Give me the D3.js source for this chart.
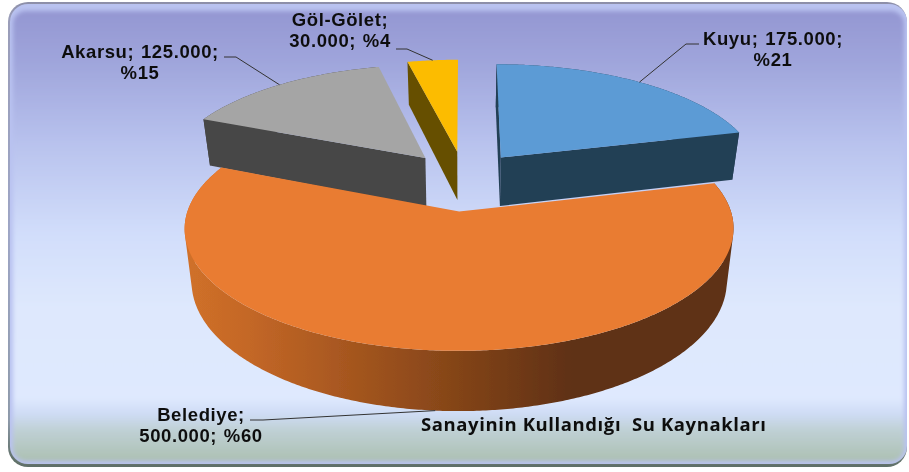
<!DOCTYPE html>
<html>
<head>
<meta charset="utf-8">
<script src="https://cdn.jsdelivr.net/npm/d3@7"></script>
<style>
  html, body { margin: 0; padding: 0; background: #fff; }
  svg { display: block; }
  .lbl { font-family: "Liberation Sans", Arial, sans-serif; font-weight: bold; font-size: 18.5px; letter-spacing: 0.6px; fill: #111; word-spacing: 1px; }
  .ttl { font-family: "Open Sans", sans-serif; font-weight: 700; font-size: 18.5px; letter-spacing: 0.6px; fill: #111; }
</style>
</head>
<body>
<div id="chart"></div>
<script>
// values
var categories = ['Kuyu', 'Belediye', 'Akarsu', 'Göl-Gölet'];
var amounts = [175000, 500000, 125000, 30000];
var amountLabels = ['175.000', '500.000', '125.000', '30.000'];
var percentLabels = ['%21', '%60', '%15', '%4'];
var chartTitle = 'Sanayinin Kullandığı  Su Kaynakları';

var topColors = ['#5B9BD5', '#E97B30', '#A5A5A5', '#FCBC00'];
var wallColors = ['#243F55', 'url(#orangeWall)', '#464646', '#665000'];

var width = 909, height = 472;

// perspective set-up of the 3d pie, fitted by eye
var view = { x0: 464, y0: 180.5, a: 262, b: 111.4, k: 0.134, depth: 50, inset: 0.025 };
var explodeX = 0.235, explodeY = 0.27;

function project(X, Y, d) {
    var w = 1 + view.k * Y;
    return [
        view.x0 + view.a * X / w * (1 - view.inset * d),
        view.y0 - view.b * Y / w + view.depth * d / w
    ];
}

var svg = d3.select('#chart').append('svg').attr('width', width).attr('height', height);
var defs = svg.append('defs');

defs.append('filter').attr('id', 'soft').attr('x', 0).attr('y', 0).attr('width', 1).attr('height', 1)
    .append('feGaussianBlur').attr('stdDeviation', 0.45);
defs.append('filter').attr('id', 'bevel').attr('x', -0.02).attr('y', -0.02).attr('width', 1.04).attr('height', 1.04)
    .append('feGaussianBlur').attr('stdDeviation', 2);

var bg = defs.append('linearGradient').attr('id', 'panelFill').attr('x1', 0).attr('x2', 0).attr('y1', 0).attr('y2', 1);
[[0, '#9497D2'], [0.12, '#A0A6DC'], [0.3, '#B9C3EE'], [0.5, '#D2DEFB'], [0.66, '#DEE8FD'], [0.86, '#DFE9FE'],
 [0.895, '#CFDCF5'], [0.93, '#C0D1D6'], [1, '#ACC0B2']].forEach(function (s) {
    bg.append('stop').attr('offset', s[0]).attr('stop-color', s[1]);
});

var edge = defs.append('linearGradient').attr('id', 'panelEdge').attr('x1', 0).attr('x2', 0).attr('y1', 0).attr('y2', 1);
[[0, '#8C8EA8'], [0.03, '#9A9DB8'], [0.5, '#9CA4C4'], [0.9, '#8C98A8'], [0.98, '#5F6F68'], [1, '#5F6F68']].forEach(function (s) {
    edge.append('stop').attr('offset', s[0]).attr('stop-color', s[1]);
});

var wallGrad = defs.append('linearGradient').attr('id', 'orangeWall')
    .attr('gradientUnits', 'userSpaceOnUse').attr('x1', 190).attr('x2', 726).attr('y1', 0).attr('y2', 0);
[[0, '#CF7029'], [0.1, '#C56827'], [0.3, '#A5561F'], [0.5, '#834418'], [0.72, '#5E3012'], [1, '#5E3012']].forEach(function (s) {
    wallGrad.append('stop').attr('offset', s[0]).attr('stop-color', s[1]);
});

var root = svg.append('g').attr('filter', 'url(#soft)');

// panel with bevel
root.append('rect').attr('x', 8).attr('y', 2).attr('width', 899).attr('height', 465).attr('rx', 20).attr('fill', 'url(#panelEdge)');
root.append('rect').attr('x', 10).attr('y', 4).attr('width', 897).attr('height', 460).attr('rx', 18).attr('fill', '#B9C2F0');
root.append('rect').attr('x', 13).attr('y', 11).attr('width', 891).attr('height', 450).attr('rx', 13)
    .attr('fill', 'url(#panelFill)').attr('filter', 'url(#bevel)');

// slices
var pie = d3.pie().sort(null).value(function (d) { return d; });
var arcs = pie(amounts);
var line = d3.line();

function slicePoints(s) {
    var mid = (s.startAngle + s.endAngle) / 2,
        ox = explodeX * Math.sin(mid),
        oy = explodeY * Math.cos(mid),
        n = Math.ceil((s.endAngle - s.startAngle) / 0.01);
    var rim = d3.range(n + 1).map(function (i) {
        var t = s.startAngle + (s.endAngle - s.startAngle) * i / n;
        return [ox + Math.sin(t), oy + Math.cos(t)];
    });
    return { mid: mid, ox: ox, oy: oy, rim: rim };
}

function pts(list, d) {
    return list.map(function (p) { return project(p[0], p[1], d); });
}

// one path of same-wound quads, nonzero fill then gives their union without seams
function rimWall(rim) {
    return d3.pairs(rim).map(function (p) {
        var quad = pts(p, 0).concat(pts(p, 1).reverse());
        if (d3.polygonArea(quad) < 0) {
            quad.reverse();
        }
        return line(quad) + 'Z';
    }).join('');
}

var slices = arcs.map(function (s, i) {
    var g = slicePoints(s);
    g.index = i;
    return g;
});

// which cut faces can be seen: start and end of the slice
var visibleCuts = [[true, true], [false, false], [true, false], [true, false]];

// paint back to front, the big slice comes last
[2, 3, 0, 1].forEach(function (i) {
    var s = slices[i],
        c = [s.ox, s.oy],
        ends = [s.rim[0], s.rim[s.rim.length - 1]],
        g = root.append('g').attr('class', 'slice');

    // the small slice only shows its cut face, its rim is all at the back
    if (i !== 3) {
        g.append('path')
            .attr('d', rimWall(s.rim))
            .attr('fill', wallColors[i]);
    }

    ends.forEach(function (e, j) {
        if (visibleCuts[i][j]) {
            g.append('path')
                .attr('d', line(pts([c, e], 0).concat(pts([e, c], 1))) + 'Z')
                .attr('fill', wallColors[i]);
        }
    });

    g.append('path')
        .attr('d', line(pts([c].concat(s.rim), 0)) + 'Z')
        .attr('fill', topColors[i]);
});

// label text and elbows, in category order
var labelLayout = [
    { x: 773, y: 45, lines: [categories[0] + '; ' + amountLabels[0] + ';', percentLabels[0]], from: [699, 44], elbow: [686, 44], depth: 0 },
    { x: 201, y: 421, lines: [categories[1] + ';', amountLabels[1] + '; ' + percentLabels[1]], from: [250, 420], elbow: [263, 420], depth: 1 },
    { x: 140, y: 58, lines: [categories[2] + '; ' + amountLabels[2] + ';', percentLabels[2]], from: [224, 57], elbow: [236, 57], depth: 0 },
    { x: 340, y: 26, lines: [categories[3] + ';', amountLabels[3] + '; ' + percentLabels[3]], from: [396, 49], elbow: [407, 49], depth: 0 }
];

labelLayout.forEach(function (l, i) {
    var s = slices[i],
        tip = project(s.ox + Math.sin(s.mid), s.oy + Math.cos(s.mid), l.depth);

    root.append('path')
        .attr('d', line([l.from, l.elbow, tip]))
        .attr('fill', 'none')
        .attr('stroke', '#333')
        .attr('stroke-width', 1);

    var t = root.append('text').attr('class', 'lbl').attr('text-anchor', 'middle');
    l.lines.forEach(function (txt, j) {
        t.append('tspan').attr('x', l.x).attr('y', l.y + j * 21).text(txt);
    });
});

root.append('text')
    .attr('class', 'ttl')
    .attr('x', 421)
    .attr('y', 431)
    .style('white-space', 'pre')
    .text(chartTitle);
</script>
</body>
</html>
